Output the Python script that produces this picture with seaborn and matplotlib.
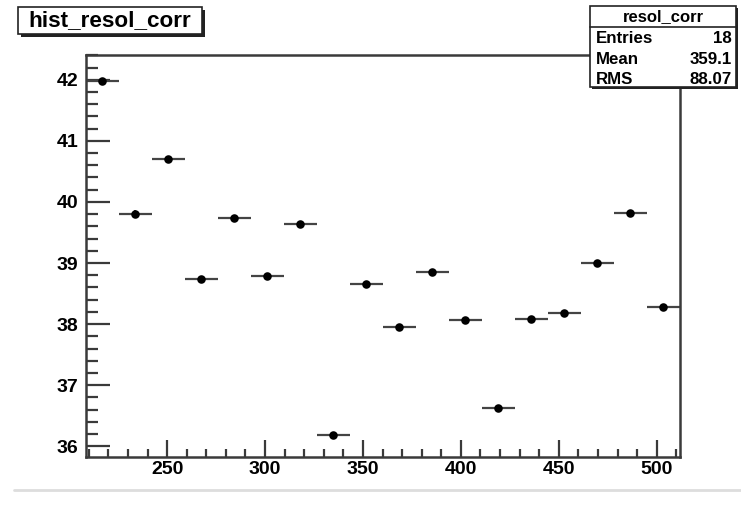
import numpy as np
import pandas as pd
import seaborn as sns
import matplotlib
matplotlib.use("Agg")
import matplotlib.pyplot as plt
from matplotlib.patches import Rectangle

# ---- data ----
x_low, x_high = 208.33, 511.67
n_bins = 18
values = [41.98, 39.81, 40.71, 38.74, 39.74, 38.79, 39.64, 36.18, 38.66,
          37.96, 38.86, 38.07, 36.62, 38.08, 38.18, 39.00, 39.82, 38.28]
y_errors = [0.05] * 18
title_text = "hist_resol_corr"
stats_name = "resol_corr"
stats_labels = ["Entries", "Mean", "RMS"]
stats_values = ["18", "359.1", "88.07"]
x_ticks = [250, 300, 350, 400, 450, 500]
y_ticks = [36, 37, 38, 39, 40, 41, 42]

edges = np.linspace(x_low, x_high, n_bins + 1)
centers = 0.5 * (edges[:-1] + edges[1:])
half_w = 0.5 * (edges[1] - edges[0])
df = pd.DataFrame({"x": centers, "y": values})

sns.set_theme(style="white")
plt.rcParams['font.family'] = ['Liberation Sans', 'DejaVu Sans']
plt.rcParams['font.weight'] = 'bold'

W, H = 741, 505
fig = plt.figure(figsize=(W / 100, H / 100), dpi=100)
fig.patch.set_facecolor("white")


def fx(px):
    return px / W


def fy(py):
    return 1 - py / H


ax_l, ax_r, ax_t, ax_b = 85.5, 679.6, 54.7, 457.3
ax = fig.add_axes([fx(ax_l), fy(ax_b), fx(ax_r) - fx(ax_l), (ax_b - ax_t) / H])

frame_col = "#3a3a3a"
ax.errorbar(df["x"], df["y"], xerr=half_w, yerr=y_errors, fmt="none",
            ecolor="#444444", elinewidth=1.6, capsize=0, zorder=2)
sns.scatterplot(data=df, x="x", y="y", ax=ax, color="black", s=38,
                edgecolor="black", linewidth=0, zorder=3, legend=False)

ax.set_xlim(x_low, x_high)
ax.set_ylim(35.82, 42.41)
ax.set_xlabel("")
ax.set_ylabel("")
ax.set_xticks(x_ticks)
ax.set_yticks(y_ticks)
ax.set_xticklabels([str(t) for t in x_ticks])
ax.set_yticklabels([str(t) for t in y_ticks])
ax.xaxis.set_minor_locator(matplotlib.ticker.MultipleLocator(10))
ax.yaxis.set_minor_locator(matplotlib.ticker.MultipleLocator(0.2))
ax.tick_params(axis="x", which="major", direction="in", length=12, width=1.6,
               color=frame_col, labelsize=14, pad=3, labelcolor="black",
               bottom=True, top=False)
ax.tick_params(axis="x", which="minor", direction="in", length=6, width=1.6,
               color=frame_col, bottom=True, top=False)
ax.tick_params(axis="y", which="major", direction="in", length=17, width=1.6,
               color=frame_col, labelsize=14, pad=5, labelcolor="black",
               left=True, right=False)
ax.tick_params(axis="y", which="minor", direction="in", length=8.5, width=1.6,
               color=frame_col, left=True, right=False)
for lab in ax.get_xticklabels() + ax.get_yticklabels():
    lab.set_fontweight("bold")
for sp in ax.spines.values():
    sp.set_visible(True)
    sp.set_color(frame_col)
    sp.set_linewidth(1.8)

# ---- title box ----
def box(x0, y0, x1, y1, shadow=3):
    fig.patches.append(Rectangle((fx(x0 + shadow), fy(y1 + shadow)),
                                 fx(x1 - x0), (y1 - y0) / H,
                                 transform=fig.transFigure, facecolor="#222222",
                                 edgecolor="none", zorder=10))
    fig.patches.append(Rectangle((fx(x0), fy(y1)), fx(x1 - x0), (y1 - y0) / H,
                                 transform=fig.transFigure, facecolor="white",
                                 edgecolor="#222222", linewidth=1.2, zorder=11))


box(18, 7, 202, 34, shadow=3)
fig.text(fx(110), fy(21), title_text, ha="center", va="center",
         fontsize=16.2, fontweight="bold", color="black", zorder=12)

# ---- stats box ----
box(590, 6, 736, 87, shadow=2)
fig.lines.append(plt.Line2D([fx(590), fx(736)], [fy(27), fy(27)],
                            transform=fig.transFigure, color="#222222",
                            linewidth=1.2, zorder=12))
fig.text(fx(663), fy(16.5), stats_name, ha="center", va="center",
         fontsize=12, fontweight="bold", color="black", zorder=12)
row_y = [38.5, 59, 79]
for lab, val, yy in zip(stats_labels, stats_values, row_y):
    fig.text(fx(596), fy(yy), lab, ha="left", va="center", fontsize=12.2,
             fontweight="bold", color="black", zorder=12)
    fig.text(fx(732), fy(yy), val, ha="right", va="center", fontsize=12.2,
             fontweight="bold", color="black", zorder=12)

# bottom separator line
fig.lines.append(plt.Line2D([fx(14), fx(741)], [fy(490), fy(490)],
                            transform=fig.transFigure, color="#dddddd",
                            linewidth=2, zorder=1))

fig.savefig("out.png", dpi=100, facecolor="white")
